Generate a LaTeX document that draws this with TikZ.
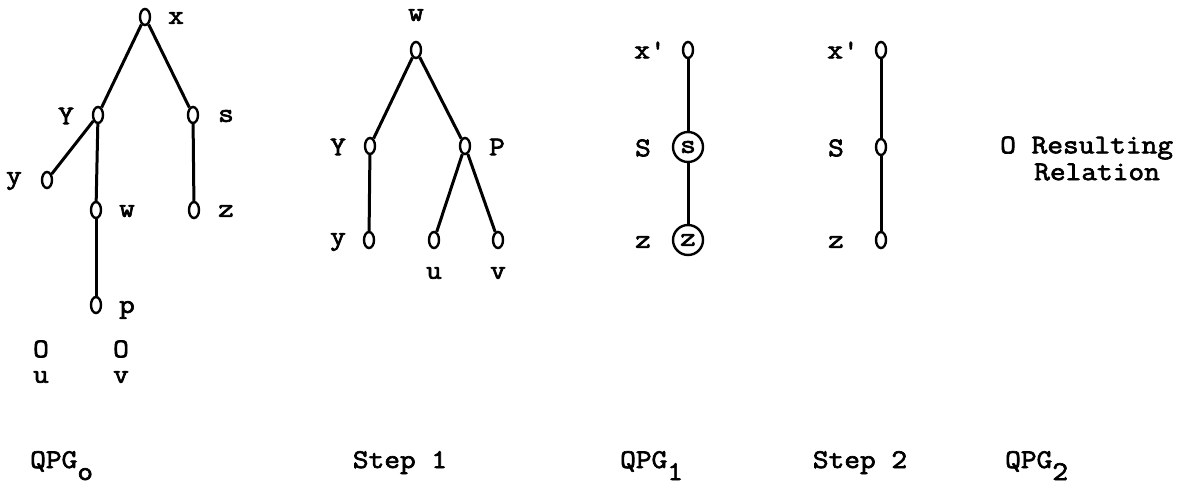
\documentclass[tikz,border=0pt]{standalone}
\usepackage{fontspec}
\setmonofont{Latin Modern Mono}[FakeStretch=1.13, FakeBold=2.5]
\usetikzlibrary{shapes.geometric}
\newcommand{\tw}{\fontsize{27}{29}\selectfont\ttfamily}
\newcommand{\lowsub}[1]{\raisebox{-12pt}{#1}}
\tikzset{
  vert/.style={draw, ellipse, line width=2.4pt, minimum width=10pt, minimum height=16pt, inner sep=0pt},
  ring/.style={draw, circle, line width=2.4pt, minimum size=30pt, inner sep=0pt, font=\tw},
  edge/.style={line width=3pt},
  lbl/.style={inner sep=0pt, font=\tw},
}
\begin{document}
\begin{tikzpicture}[x=1pt,y=-1pt]
\useasboundingbox (0,0) rectangle (1185,492);
% QPG0
\node[vert] (x0) at (145,17) {};
\node[vert] (Y0) at (98,115) {};
\node[vert] (s0) at (193,115) {};
\node[vert] (y0) at (47,180) {};
\node[vert] (w0) at (96,210) {};
\node[vert] (z0) at (194,210) {};
\node[vert] (p0) at (96,305) {};
\draw[edge] (x0) -- (Y0);
\draw[edge] (x0) -- (s0);
\draw[edge] (Y0) -- (y0);
\draw[edge] (Y0) -- (w0);
\draw[edge] (s0) -- (z0);
\draw[edge] (w0) -- (p0);
\node[lbl] (lx0) at (176,18) {x};
\node[lbl] (lY0) at (66,116) {Y};
\node[lbl] (ls0) at (226,116) {s};
\node[lbl] (ly0) at (14,181) {y};
\node[lbl] (lw0) at (127,211) {w};
\node[lbl] (lz0) at (226,211) {z};
\node[lbl] (lp0) at (127,310) {p};
\node[lbl] (ou0) at (41,349) {O};
\node[lbl] (ov0) at (121,349) {O};
\node[lbl] (lu0) at (41,377) {u};
\node[lbl] (lv0) at (121,377) {v};
% Step 1
\node[vert] (w1) at (416,50) {};
\node[vert] (Y1) at (370,146) {};
\node[vert] (P1) at (465,146) {};
\node[vert] (y1) at (369,240) {};
\node[vert] (u1) at (434,240) {};
\node[vert] (v1) at (498,240) {};
\draw[edge] (w1) -- (Y1);
\draw[edge] (w1) -- (P1);
\draw[edge] (Y1) -- (y1);
\draw[edge] (P1) -- (u1);
\draw[edge] (P1) -- (v1);
\node[lbl] (lw1) at (416,15) {w};
\node[lbl] (lY1) at (338,147) {Y};
\node[lbl] (lP1) at (497,147) {P};
\node[lbl] (ly1) at (338,242) {y};
\node[lbl] (lu1) at (434,273) {u};
\node[lbl] (lv1) at (498,273) {v};
% QPG1
\node[vert] (x2) at (688,50) {};
\node[ring] (s2) at (688,147) {s};
\node[ring] (z2) at (688,240) {z};
\draw[edge] (x2) -- (s2);
\draw[edge] (s2) -- (z2);
\node[lbl] (lx2) at (650,50) {x'};
\node[lbl] (lS2) at (643,148) {S};
\node[lbl] (lz2) at (643,242) {z};
% Step 2
\node[vert] (x3) at (881,50) {};
\node[vert] (s3) at (881,147) {};
\node[vert] (z3) at (881,240) {};
\draw[edge] (x3) -- (s3);
\draw[edge] (s3) -- (z3);
\node[lbl] (lx3) at (843,50) {x'};
\node[lbl] (lS3) at (836,148) {S};
\node[lbl] (lz3) at (836,242) {z};
% Result
\node[lbl, anchor=west] (res) at (1000,148) {O Resulting};
\node[lbl, anchor=west] (rel) at (1034,172) {Relation};
% bottom captions
\node[lbl, anchor=base west] (c0) at (30,468) {QPG\lowsub{o}};
\node[lbl, anchor=base] (c1) at (400,468) {Step 1};
\node[lbl, anchor=base west] (c2) at (620,468) {QPG\lowsub{1}};
\node[lbl, anchor=base] (c3) at (860,468) {Step 2};
\node[lbl, anchor=base west] (c4) at (1005,468) {QPG\lowsub{2}};
\end{tikzpicture}
\end{document}
